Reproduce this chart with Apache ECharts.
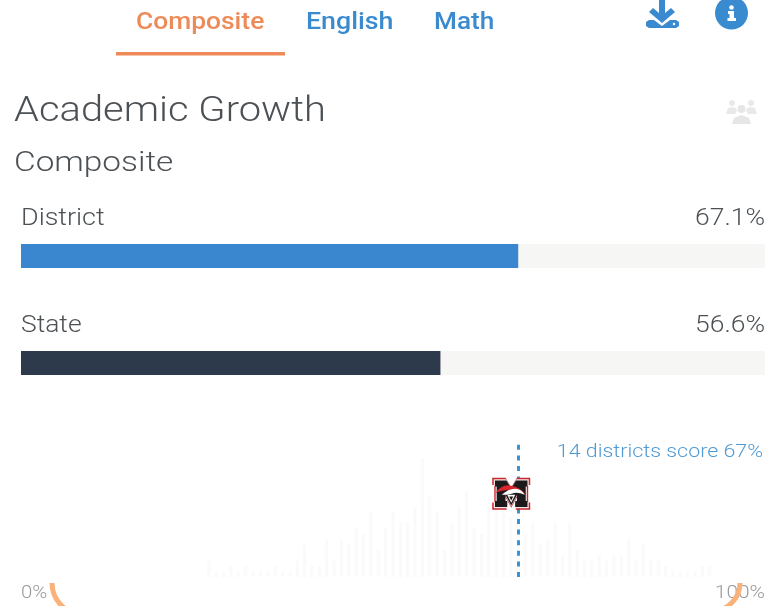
<!DOCTYPE html>
<html><head><meta charset="utf-8">
<style>html,body{margin:0;padding:0;background:#fff}#c{width:765px;height:606px}</style>
<script src="https://cdn.jsdelivr.net/npm/echarts@6/dist/echarts.min.js"></script>
</head><body><div id="c"></div>
<script>
const categories = ['District', 'State'];
const values = [67.1, 56.6];
const barColors = ['#3a87d0', '#2d3a4c'];
const tabs = ['Composite', 'English', 'Math'];
const pctLabels = ['0%', '100%'];
const histPercent = [25,26,27,28,29,30,31,32,33,34,35,36,37,38,39,40,41,42,43,44,45,46,47,48,49,50,51,52,53,54,55,56,57,58,59,60,61,62,63,64,65,66,67,68,69,70,71,72,73,74,75,76,77,78,79,80,81,82,83,84,85,86,87,88,89,90,91,92,93];
const histCount   = [3,1,1,2,1,2,1,1,1,2,1,1,3,6,2,2,7,3,7,6,9,8,12,5,9,12,10,10,13,22,15,12,5,10,13,16,9,8,13,15,14,11,14,8,10,6,7,10,4,10,5,3,3,4,3,4,4,7,3,6,3,3,2,1,1,1,1,2,2];
const highlightPct = 67;
const highlightCount = 14;
const logoLevel = 15.4;

const font = 'Roboto';
const blue = '#3a8ad0', orange = '#ee8a58', grey = '#4c5155';
const pctAxis = Array.from({length: 101}, (_, i) => String(i));
const histData = pctAxis.map(p => { const k = histPercent.indexOf(+p); return k < 0 ? 0 : histCount[k]; });

const mPath = 'path://M0 0H13L18.5 9L24 0H37V7H35V24H37V31H23V24H25V17L18.5 29L12 17V24H14V31H0V24H2V7H0Z';
const logoAt = ['67', logoLevel];
const logoShift = -7;
function lp(path, color, size, offset) {
  return {coord: logoAt, symbol: path, symbolSize: size, symbolOffset: [offset[0] + logoShift, offset[1]], itemStyle: {color}, label: {show: false}};
}

function txt(x, y, text, size, fill, align, weight, sx) {
  return {type: 'text', x, y, scaleX: sx || 1, silent: true, z: 20, style: {text, fontFamily: font, fontSize: size, fontWeight: weight || 300, fill, align: align || 'left', verticalAlign: 'middle'}};
}
function poly(points, fill, z) {
  return {type: 'polygon', z: z || 20, silent: true, shape: {points}, style: {fill}};
}
function dot(cx, cy, r, fill, z) {
  return {type: 'circle', z: z || 20, silent: true, shape: {cx, cy, r}, style: {fill}};
}

const graphic = [
  txt(136, 23, tabs[0], 24, orange, 'left', 500, 1.10),
  txt(306, 23, tabs[1], 24, blue, 'left', 500, 1.115),
  txt(434, 23, tabs[2], 24, blue, 'left', 500, 1.09),
  {type: 'rect', silent: true, shape: {x: 116, y: 52, width: 169, height: 3.5}, style: {fill: orange}},
  txt(14, 112, 'Academic Growth', 35, grey, 'left', 300, 1.14),
  txt(14, 164, 'Composite', 28, grey, 'left', 300, 1.19),
  txt(21, 219, categories[0], 23, grey, 'left', 300, 1.17),
  txt(765, 219, values[0].toFixed(1) + '%', 23, grey, 'right', 300, 1.15),
  txt(21, 326, categories[1], 23, grey, 'left', 300, 1.15),
  txt(765, 326, values[1].toFixed(1) + '%', 23, grey, 'right', 300, 1.15),
  txt(763, 452, highlightCount + ' districts score ' + highlightPct + '%', 18.5, '#4f9ad2', 'right', 300, 1.157),
  txt(21, 593, pctLabels[0], 18, '#9a9a9a', 'left', 300, 1.13),
  txt(765, 593, pctLabels[1], 18, '#9a9a9a', 'right', 300, 1.16),
  // download icon
  poly([[659,0],[665,0],[665,13],[671,8],[675,12],[662,23],[649,12],[653,8],[659,13]], blue),
  poly([[649,20],[654,20],[662,26],[670,20],[676,20],[679,22],[679,26],[676,28],[649,28],[646,26],[646,22]], blue),
  dot(674, 24, 1.2, '#fff', 21),
  // info icon
  dot(731.5, 13, 16.5, blue),
  dot(731.5, 7.5, 2.3, '#fff', 21),
  poly([[728,11],[734,11],[734,18],[736,18],[736,21],[727.5,21],[727.5,18],[729.5,18],[729.5,14],[728,14]], '#fff', 21),
  // people icon
  dot(732, 103, 3, '#e9e9e9'),
  dot(751, 103, 3, '#e9e9e9'),
  dot(741.5, 109, 4, '#e6e6e6'),
  poly([[726,114],[728,108],[732,107],[736,108],[737,111],[735,114]], '#e9e9e9'),
  poly([[757,114],[755,108],[751,107],[747,108],[746,111],[748,114]], '#e9e9e9'),
  poly([[732,124],[734,118],[741.5,115],[749,118],[751,124]], '#e6e6e6'),
  // orange corner arcs
  {type: 'arc', z: 25, silent: true, shape: {cx: 83.5, cy: 583, r: 31.5, startAngle: Math.PI / 2, endAngle: Math.PI, clockwise: true}, style: {fill: 'none', stroke: '#fbb27a', lineWidth: 5}},
  {type: 'arc', z: 25, silent: true, shape: {cx: 712, cy: 583, r: 28, startAngle: 0, endAngle: Math.PI / 2, clockwise: true}, style: {fill: 'none', stroke: '#fbb27a', lineWidth: 5}}
];

const chart = echarts.init(document.getElementById('c'), null, {renderer: 'canvas'});
chart.setOption({
  animation: false,
  backgroundColor: '#ffffff',
  grid: [
    {left: 21, top: 202.5, width: 744, height: 214},
    {left: 21, top: 442, width: 744, height: 135}
  ],
  xAxis: [
    {type: 'value', gridIndex: 0, min: 0, max: 100.4, show: false},
    {type: 'category', gridIndex: 1, data: pctAxis, show: false}
  ],
  yAxis: [
    {type: 'category', gridIndex: 0, inverse: true, data: categories, show: false},
    {type: 'value', gridIndex: 1, min: 0, max: 25, show: false}
  ],
  series: [
    {
      type: 'bar', xAxisIndex: 0, yAxisIndex: 0, barWidth: 24,
      data: values.map((v, i) => ({value: v, itemStyle: {color: barColors[i]}})),
      showBackground: true, backgroundStyle: {color: '#f6f6f4'}, silent: true
    },
    {
      type: 'bar', xAxisIndex: 1, yAxisIndex: 1, barWidth: 3, data: histData, silent: true,
      itemStyle: {color: '#fafafa'},
      markLine: {
        silent: true, symbol: 'none', label: {show: false}, z: 6,
        lineStyle: {color: '#3c93d2', type: [5, 5.6], width: 3},
        data: [{xAxis: String(highlightPct)}]
      },
      markPoint: {
        silent: true, z: 10,
        data: [
          lp(mPath, '#c8282d', [38, 32], [0, 0]),
          lp(mPath, '#f4e8e8', [35, 29], [0, 0]),
          lp(mPath, '#1c1a1b', [32.5, 26.5], [0, 0]),
          lp('path://M0 9Q8 0 18 2Q28 3 34 10Q24 5 16 6Q7 6 0 9Z', '#d9262c', [30, 9], [-1, -4]),
          lp('path://M0 6Q10 0 20 1Q27 2 30 6Q20 3 13 5Q8 6 0 6Z', '#ffffff', [23, 6], [2, -2]),
          lp('path://M0 0H12L6 10ZM3 2L6 7L9 2Z', '#ffffff', [8, 8], [0, 5])
        ]
      }
    }
  ],
  graphic
});
</script></body></html>
